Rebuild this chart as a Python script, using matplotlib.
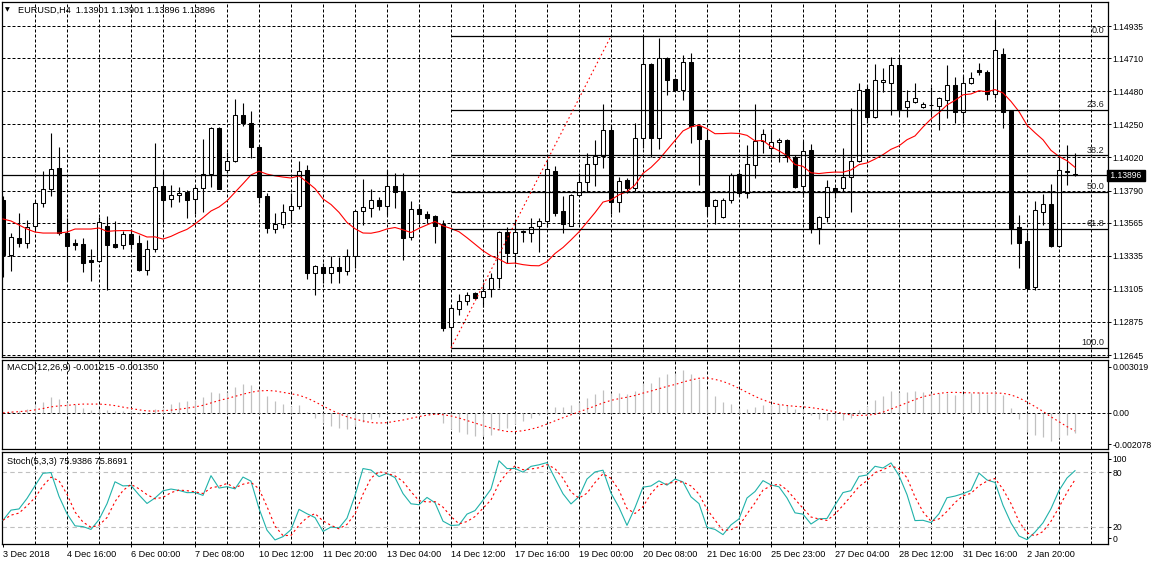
import numpy as np
import pandas as pd
import matplotlib
matplotlib.use("Agg")
import matplotlib.pyplot as plt
from matplotlib.transforms import blended_transform_factory

plt.rcParams['font.family'] = ['Liberation Sans', 'DejaVu Sans']
plt.rcParams['axes.unicode_minus'] = False

# ---------------- data (EURUSD H4) ----------------
opens = [1.13724, 1.13341, 1.13460, 1.13425, 1.13543, 1.13703, 1.13801, 1.13947, 1.13494, 1.13425,
         1.13418, 1.13306, 1.13299, 1.13543, 1.13418, 1.13411, 1.13487, 1.13425, 1.13237, 1.13383,
         1.13821, 1.13731, 1.13759, 1.13780, 1.13731, 1.13808, 1.13905, 1.14225, 1.13933, 1.13995,
         1.14316, 1.14260, 1.14093, 1.13752, 1.13522, 1.13557, 1.13654, 1.13682, 1.13933, 1.13216,
         1.13258, 1.13216, 1.13258, 1.13230, 1.13334, 1.13647, 1.13668, 1.13724, 1.13682, 1.13821,
         1.13787, 1.13466, 1.13661, 1.13627, 1.13613, 1.13557, 1.12840, 1.12965, 1.13021, 1.13077,
         1.13049, 1.13105, 1.13181, 1.13501, 1.13355, 1.13501, 1.13494, 1.13543, 1.13578, 1.13926,
         1.13647, 1.13543, 1.13759, 1.13849, 1.13975, 1.14030, 1.14211, 1.13710, 1.13863, 1.13808,
         1.14156, 1.14671, 1.14156, 1.14712, 1.14566, 1.14490, 1.14684, 1.14239, 1.14142, 1.13682,
         1.13606, 1.13724, 1.13905, 1.13773, 1.13968, 1.14135, 1.14086, 1.14128, 1.14142, 1.14023,
         1.13821, 1.14072, 1.13529, 1.13606, 1.13808, 1.13808, 1.13884, 1.13995, 1.14497, 1.14302,
         1.14545, 1.14538, 1.14664, 1.14371, 1.14406, 1.14371, 1.14385, 1.14378, 1.14420, 1.14524,
         1.14336, 1.14538, 1.14629, 1.14615, 1.14462, 1.14740, 1.14343, 1.13536, 1.13439, 1.13118,
         1.13640, 1.13696, 1.13404, 1.13926, 1.13905]
highs = [1.13752, 1.13494, 1.13634, 1.13585, 1.13717, 1.13926, 1.14190, 1.14093, 1.13599, 1.13453,
         1.13460, 1.13383, 1.13606, 1.13613, 1.13578, 1.13508, 1.13522, 1.13480, 1.13446, 1.14121,
         1.13926, 1.13828, 1.13814, 1.13794, 1.13821, 1.14149, 1.14232, 1.14232, 1.14058, 1.14427,
         1.14399, 1.14343, 1.14107, 1.13773, 1.13634, 1.13696, 1.13773, 1.13995, 1.13968, 1.13272,
         1.13286, 1.13334, 1.13327, 1.13383, 1.13654, 1.13870, 1.13801, 1.13745, 1.13933, 1.13912,
         1.13912, 1.13717, 1.13696, 1.13647, 1.13620, 1.13585, 1.12993, 1.13070, 1.13084, 1.13084,
         1.13146, 1.13216, 1.13508, 1.13536, 1.13585, 1.13515, 1.13599, 1.13599, 1.14002, 1.13961,
         1.13752, 1.13766, 1.13912, 1.14051, 1.14142, 1.14392, 1.14246, 1.13884, 1.13877, 1.14260,
         1.14865, 1.14678, 1.14851, 1.14719, 1.14573, 1.14733, 1.14747, 1.14246, 1.14211, 1.13731,
         1.13738, 1.13912, 1.13919, 1.14107, 1.14392, 1.14218, 1.14218, 1.14156, 1.14149, 1.14037,
         1.14135, 1.14114, 1.13613, 1.13863, 1.13814, 1.14086, 1.14364, 1.14538, 1.14524, 1.14671,
         1.14643, 1.14719, 1.14719, 1.14490, 1.14538, 1.14406, 1.14510, 1.14441, 1.14664, 1.14580,
         1.14594, 1.14615, 1.14678, 1.14629, 1.14977, 1.14782, 1.14350, 1.13620, 1.13501, 1.13717,
         1.13766, 1.13835, 1.14023, 1.14107, 1.14051]
lows = [1.13188, 1.13230, 1.13397, 1.13390, 1.13515, 1.13675, 1.13752, 1.13480, 1.13160, 1.13376,
        1.13223, 1.13160, 1.13292, 1.13098, 1.13390, 1.13383, 1.13383, 1.13230, 1.13202, 1.13362,
        1.13571, 1.13675, 1.13710, 1.13599, 1.13627, 1.13640, 1.13814, 1.13801, 1.13912, 1.13988,
        1.14239, 1.14016, 1.13703, 1.13494, 1.13494, 1.13529, 1.13564, 1.13661, 1.13174, 1.13063,
        1.13146, 1.13146, 1.13146, 1.13202, 1.13251, 1.13550, 1.13606, 1.13654, 1.13620, 1.13668,
        1.13306, 1.13446, 1.13564, 1.13564, 1.13425, 1.12812, 1.12694, 1.12924, 1.12993, 1.13035,
        1.12979, 1.13049, 1.13112, 1.13286, 1.13286, 1.13432, 1.13432, 1.13362, 1.13536, 1.13613,
        1.13494, 1.13543, 1.13752, 1.13780, 1.13821, 1.13947, 1.13627, 1.13640, 1.13773, 1.13787,
        1.14086, 1.14023, 1.14079, 1.14455, 1.14483, 1.14420, 1.14121, 1.13828, 1.13620, 1.13557,
        1.13599, 1.13703, 1.13752, 1.13738, 1.13877, 1.14051, 1.14016, 1.13988, 1.13988, 1.13808,
        1.13745, 1.13494, 1.13418, 1.13571, 1.13738, 1.13780, 1.13640, 1.13988, 1.14260, 1.14295,
        1.14476, 1.14316, 1.14316, 1.14302, 1.14399, 1.14364, 1.14316, 1.14211, 1.14295, 1.14260,
        1.14260, 1.14531, 1.14594, 1.14420, 1.14434, 1.14225, 1.13418, 1.13251, 1.13098, 1.13098,
        1.13550, 1.13397, 1.13397, 1.13828, 1.13890]
closes = [1.13341, 1.13466, 1.13425, 1.13536, 1.13703, 1.13801, 1.13940, 1.13494, 1.13404, 1.13411,
          1.13286, 1.13292, 1.13571, 1.13411, 1.13397, 1.13487, 1.13418, 1.13237, 1.13383, 1.13814,
          1.13724, 1.13759, 1.13773, 1.13724, 1.13808, 1.13905, 1.14225, 1.13801, 1.13995, 1.14316,
          1.14260, 1.14093, 1.13745, 1.13529, 1.13557, 1.13640, 1.13682, 1.13926, 1.13216, 1.13265,
          1.13216, 1.13258, 1.13230, 1.13334, 1.13647, 1.13675, 1.13724, 1.13682, 1.13821, 1.13780,
          1.13460, 1.13661, 1.13627, 1.13599, 1.13543, 1.12833, 1.12972, 1.13021, 1.13063, 1.13042,
          1.13091, 1.13181, 1.13501, 1.13355, 1.13501, 1.13508, 1.13536, 1.13578, 1.13940, 1.13634,
          1.13557, 1.13759, 1.13849, 1.13975, 1.14030, 1.14211, 1.13710, 1.13856, 1.13808, 1.14156,
          1.14671, 1.14156, 1.14712, 1.14559, 1.14490, 1.14684, 1.14239, 1.14149, 1.13682, 1.13724,
          1.13724, 1.13898, 1.13773, 1.13975, 1.14135, 1.14183, 1.14128, 1.14142, 1.14023, 1.13814,
          1.14065, 1.13522, 1.13606, 1.13814, 1.13780, 1.13884, 1.13995, 1.14490, 1.14302, 1.14559,
          1.14559, 1.14664, 1.14357, 1.14413, 1.14434, 1.14392, 1.14386, 1.14434, 1.14524, 1.14336,
          1.14538, 1.14573, 1.14615, 1.14462, 1.14768, 1.14336, 1.13529, 1.13425, 1.13112, 1.13654,
          1.13696, 1.13404, 1.13933, 1.13919, 1.13896]

# moving-average values shown for the first bars (window not complete in the visible data)
ma_lead = [1.13592, 1.13578, 1.13550, 1.13522, 1.13501, 1.13494, 1.13494, 1.13494,
           1.13501, 1.13522, 1.13522, 1.13522, 1.13529]

price_ticks = [1.12645, 1.12875, 1.13105, 1.13335, 1.13565, 1.13790, 1.14020,
               1.14250, 1.14480, 1.14710, 1.14935]
time_labels = ['3 Dec 2018', '4 Dec 16:00', '6 Dec 00:00', '7 Dec 08:00', '10 Dec 12:00',
               '11 Dec 20:00', '13 Dec 04:00', '14 Dec 12:00', '17 Dec 16:00', '19 Dec 00:00',
               '20 Dec 08:00', '21 Dec 16:00', '25 Dec 23:00', '27 Dec 04:00', '28 Dec 12:00',
               '31 Dec 16:00', '2 Jan 20:00']
macd_tick_values = [0.003019, 0.0, -0.002078]
macd_tick_labels = ['0.003019', '0.00', '-0.002078']
stoch_tick_labels = ['100', '80', '20', '0']

fib_bars = [56, 76]
fib_prices = [1.12694, 1.14865]
fib_levels = [0.0, 23.6, 38.2, 50.0, 61.8, 100.0]

current_price = 1.13896
title_main = 'EURUSD,H4  1.13901 1.13901 1.13896 1.13896'
title_macd = 'MACD(12,26,9) -0.001215 -0.001350'
title_stoch = 'Stoch(5,3,3) 75.9386 75.8691'

MA_PERIOD = 14

# ---------------- indicators ----------------
o = np.array(opens); h = np.array(highs); l = np.array(lows); c = np.array(closes)
n = len(c)
idx = np.arange(n)
cs = pd.Series(c)
ma = cs.rolling(MA_PERIOD).mean().to_numpy()
ma[:len(ma_lead)] = ma_lead
ema12 = cs.ewm(span=12, adjust=False).mean()
ema26 = cs.ewm(span=26, adjust=False).mean()
macd = (ema12 - ema26)
signal = macd.rolling(9, min_periods=1).mean()
hh = pd.Series(h).rolling(5, min_periods=1).max()
ll = pd.Series(l).rolling(5, min_periods=1).min()
num = (cs - ll).rolling(3, min_periods=1).sum()
den = (hh - ll).rolling(3, min_periods=1).sum()
stk = 100 * num / den
std = stk.rolling(3, min_periods=1).mean()

# ---------------- figure ----------------
W, H = 1152, 566
fig = plt.figure(figsize=(W / 100, H / 100), dpi=100)
fig.patch.set_facecolor('white')


def px_axes(x0, y0, x1, y1):
    return fig.add_axes([x0 / W, 1 - y1 / H, (x1 - x0) / W, (y1 - y0) / H])


ax = px_axes(2, 2, 1108, 357)
axm = px_axes(2, 360, 1108, 449)
axs = px_axes(2, 452, 1108, 544)

XL = (-0.125, 138.125)
FS = 6.6
YFS = 6.2
grid_kw = dict(color='black', lw=0.72, ls=(0, (3, 2)), zorder=0.5)

for a in (ax, axm, axs):
    a.set_xlim(*XL)
    a.set_facecolor('white')
    for s in a.spines.values():
        s.set_color('black')
        s.set_linewidth(0.9)
    for gx in range(4, 138, 4):
        a.axvline(gx, **grid_kw)
    a.yaxis.tick_right()
    a.tick_params(axis='y', length=2.0, width=0.7, pad=1.0, labelsize=YFS, colors='black')

# main panel
ax.set_ylim(1.126313, 1.151021)
for p in price_ticks:
    ax.axhline(p, **grid_kw)
ax.set_yticks(price_ticks)
ax.set_yticklabels(['%.5f' % p for p in price_ticks])
ax.set_xticks([])

ax.vlines(idx, l, h, color='black', lw=0.8, zorder=2)
bull = c >= o
bw = 0.5
ax.bar(idx[bull], np.maximum(c[bull] - o[bull], 1e-7), bottom=o[bull], width=bw,
       facecolor='white', edgecolor='black', linewidth=0.75, zorder=3)
ax.bar(idx[~bull], o[~bull] - c[~bull], bottom=c[~bull], width=bw,
       facecolor='black', edgecolor='black', linewidth=0.75, zorder=3)
ax.plot(idx, ma, color='red', lw=0.8, zorder=4)

# current price line & tag
ax.axhline(current_price, color='black', lw=0.9, zorder=4)
tr = blended_transform_factory(ax.transAxes, ax.transData)
ax.text(1.0, current_price, ' %.5f ' % current_price, transform=tr, ha='left', va='center',
        color='white', fontsize=YFS, clip_on=False, zorder=6,
        bbox=dict(boxstyle='square,pad=0.12', fc='black', ec='black'))

# fibonacci retracement
f_lo, f_hi = fib_prices
for lev in fib_levels:
    p = f_hi - (f_hi - f_lo) * lev / 100.0
    ax.hlines(p, fib_bars[0], XL[1], color='black', lw=0.9, zorder=4)
    ax.text(137.7, p + 0.00004, '%.1f' % lev, ha='right', va='bottom', fontsize=FS,
            color='#202020', zorder=5)
ax.plot(fib_bars, fib_prices, color='red', lw=0.8, ls=(0, (1.5, 2.5)), zorder=4)

# MACD panel
axm.set_ylim(-0.002374, 0.003479)
axm.axhline(0, **grid_kw)
axm.vlines(idx, 0, macd.to_numpy(), color='#c0c0c0', lw=0.9, zorder=2)
axm.plot(idx, signal.to_numpy(), color='red', lw=0.8, ls=(0, (1.5, 2.5)), zorder=3)
axm.set_yticks(macd_tick_values)
axm.set_yticklabels(macd_tick_labels)
axm.set_xticks([])

# Stochastic panel
axs.set_ylim(1, 102)
for lv in (20, 80):
    axs.axhline(lv, color='#c0c0c0', lw=0.8, ls=(0, (4, 3)), zorder=0.6)
axs.plot(idx, stk.to_numpy(), color='#20b2aa', lw=0.8, zorder=3)
axs.plot(idx, std.to_numpy(), color='red', lw=0.8, ls=(0, (2, 2.5)), zorder=3)
axs.set_yticks([94.5, 80, 20, 7.5])
axs.set_yticklabels(stoch_tick_labels)
tick_pos = list(range(0, 8 * len(time_labels), 8))
axs.set_xticks(tick_pos)
axs.set_xticklabels(time_labels)
axs.tick_params(axis='x', length=2.5, width=0.7, pad=1.5, labelsize=FS, colors='black')
for t in axs.get_xticklabels():
    t.set_ha('left')

# titles
fig.text(5 / W, 1 - 10 / H, '\u25bc', fontsize=4.5, va='center', ha='left',
         family=['DejaVu Sans'])
fig.text(18 / W, 1 - 10 / H, title_main, fontsize=FS, va='center', ha='left')
fig.text(7 / W, 1 - 368 / H, title_macd, fontsize=FS, va='center', ha='left')
fig.text(7 / W, 1 - 462 / H, title_stoch, fontsize=FS, va='center', ha='left')

fig.savefig('out.png', dpi=100, facecolor='white')
